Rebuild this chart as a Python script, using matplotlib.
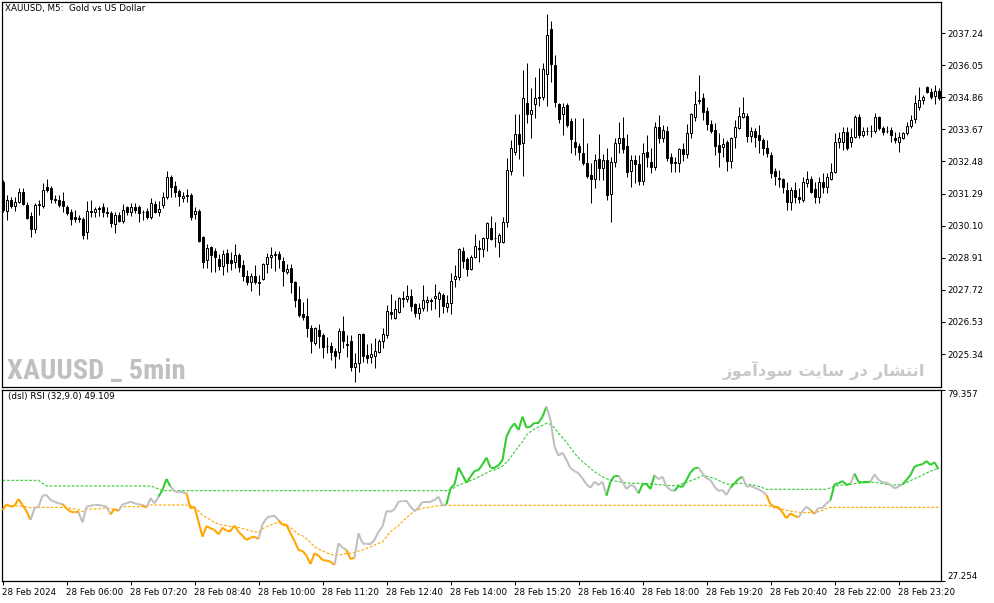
import matplotlib.pyplot as plt
import numpy as np
from matplotlib.collections import LineCollection
from matplotlib.patches import Rectangle

# XAUUSD M5 candles, 28 Feb 2024 04:40 onwards
opens = [2031.72, 2030.64, 2031.05, 2030.83, 2030.98, 2031.35, 2030.86, 2030.45, 2029.97, 2030.86,
         2030.83, 2031.53, 2031.49, 2031.09, 2031.05, 2031.01, 2030.79, 2030.61, 2030.42, 2030.38,
         2030.34, 2029.86, 2030.64, 2030.61, 2030.75, 2030.79, 2030.61, 2030.57, 2030.16, 2030.49,
         2030.27, 2030.79, 2030.61, 2030.79, 2030.79, 2030.61, 2030.64, 2030.42, 2030.90, 2030.61,
         2030.86, 2031.16, 2031.90, 2031.57, 2031.38, 2031.12, 2031.20, 2031.23, 2030.53, 2030.64,
         2029.67, 2028.82, 2029.30, 2029.15, 2028.86, 2028.60, 2029.08, 2028.82, 2028.75, 2029.00,
         2028.64, 2028.23, 2028.01, 2028.23, 2028.01, 2028.12, 2028.67, 2028.93, 2029.00, 2029.04,
         2028.78, 2028.38, 2028.53, 2028.01, 2027.38, 2026.82, 2026.75, 2026.30, 2025.75, 2026.23,
         2026.04, 2025.64, 2025.64, 2025.45, 2025.42, 2026.19, 2025.71, 2025.82, 2024.85, 2025.00,
         2026.08, 2025.30, 2025.23, 2025.27, 2025.42, 2025.82, 2026.04, 2026.90, 2026.67, 2026.90,
         2027.41, 2027.38, 2027.49, 2027.19, 2026.86, 2027.04, 2027.27, 2027.34, 2027.41, 2027.38,
         2027.53, 2027.08, 2027.23, 2028.12, 2028.19, 2029.15, 2028.86, 2028.49, 2028.93, 2029.26,
         2029.23, 2029.63, 2030.01, 2029.63, 2029.49, 2029.49, 2030.24, 2032.12, 2032.83, 2033.49,
         2033.16, 2034.64, 2034.23, 2034.60, 2034.83, 2034.86, 2035.72, 2037.39, 2036.05, 2034.60,
         2034.23, 2034.56, 2033.97, 2033.20, 2033.05, 2032.79, 2032.42, 2031.98, 2031.83, 2032.56,
         2032.23, 2032.53, 2031.27, 2032.45, 2033.16, 2033.34, 2033.05, 2032.12, 2032.53, 2032.38,
         2031.75, 2032.83, 2032.45, 2032.27, 2033.75, 2033.34, 2033.60, 2032.64, 2032.42, 2032.42,
         2032.94, 2032.75, 2033.53, 2034.12, 2034.71, 2034.83, 2034.34, 2033.86, 2033.64, 2033.08,
         2033.01, 2033.20, 2032.49, 2033.38, 2033.71, 2034.12, 2034.16, 2033.42, 2033.60, 2033.45,
         2033.27, 2032.97, 2032.71, 2032.12, 2031.87, 2031.83, 2031.42, 2030.98, 2031.42, 2031.16,
         2031.05, 2031.68, 2031.83, 2031.46, 2031.16, 2031.72, 2031.53, 2031.83, 2032.09, 2033.20,
         2033.20, 2033.57, 2033.20, 2033.38, 2034.12, 2033.45, 2033.60, 2033.60, 2033.60, 2034.12,
         2033.71, 2033.60, 2033.64, 2033.34, 2033.20, 2033.34, 2033.53, 2033.79, 2034.05, 2034.49,
         2034.75, 2035.23, 2035.05, 2034.90, 2035.09]
highs = [2031.79, 2031.23, 2031.16, 2031.16, 2031.49, 2031.49, 2030.98, 2030.61, 2030.94, 2031.05,
         2031.68, 2031.83, 2031.57, 2031.23, 2031.23, 2031.35, 2030.86, 2030.72, 2030.68, 2030.49,
         2030.42, 2031.01, 2031.05, 2030.79, 2030.83, 2030.94, 2030.79, 2030.64, 2030.61, 2030.61,
         2030.90, 2030.83, 2030.94, 2030.94, 2030.86, 2030.68, 2030.75, 2031.12, 2031.01, 2031.01,
         2031.35, 2032.12, 2031.98, 2031.75, 2031.46, 2031.35, 2031.46, 2031.31, 2030.79, 2030.72,
         2029.71, 2029.41, 2029.34, 2029.26, 2029.04, 2029.19, 2029.23, 2029.12, 2029.41, 2029.08,
         2028.82, 2028.45, 2028.34, 2028.64, 2028.27, 2028.71, 2029.08, 2029.30, 2029.15, 2029.15,
         2028.93, 2028.67, 2028.67, 2028.04, 2027.86, 2027.27, 2027.41, 2026.41, 2026.34, 2026.45,
         2026.12, 2025.97, 2025.79, 2025.56, 2026.30, 2026.75, 2026.04, 2026.04, 2025.38, 2026.08,
         2026.12, 2025.71, 2025.75, 2025.93, 2025.90, 2026.30, 2027.15, 2027.56, 2027.34, 2027.45,
         2027.67, 2027.90, 2027.75, 2027.23, 2027.23, 2027.90, 2027.49, 2027.41, 2027.93, 2027.67,
         2027.60, 2027.53, 2028.34, 2028.64, 2029.26, 2029.30, 2028.93, 2029.00, 2029.78, 2029.56,
         2029.67, 2030.24, 2030.46, 2030.24, 2029.82, 2030.42, 2032.60, 2033.27, 2034.23, 2034.23,
         2035.87, 2036.13, 2035.19, 2035.60, 2035.94, 2036.13, 2037.94, 2037.68, 2036.42, 2034.64,
         2034.64, 2034.64, 2034.08, 2034.08, 2033.16, 2034.08, 2033.16, 2032.42, 2032.75, 2033.49,
         2032.75, 2032.97, 2032.64, 2033.34, 2033.94, 2034.12, 2033.49, 2032.71, 2032.71, 2032.71,
         2033.16, 2033.45, 2032.97, 2033.94, 2034.19, 2033.82, 2033.79, 2032.79, 2032.64, 2032.97,
         2033.16, 2033.86, 2034.27, 2035.09, 2035.68, 2035.01, 2034.49, 2034.01, 2033.90, 2033.53,
         2033.34, 2033.27, 2033.38, 2034.01, 2034.49, 2034.86, 2034.27, 2033.75, 2033.71, 2033.82,
         2033.34, 2033.27, 2032.83, 2032.23, 2032.16, 2031.87, 2031.72, 2031.53, 2031.72, 2031.49,
         2031.90, 2032.12, 2031.94, 2031.72, 2031.90, 2032.05, 2032.05, 2032.42, 2033.53, 2033.57,
         2033.75, 2033.75, 2033.71, 2034.19, 2034.23, 2033.75, 2033.75, 2033.82, 2034.27, 2034.16,
         2033.79, 2033.79, 2033.75, 2033.57, 2033.57, 2033.57, 2033.94, 2034.19, 2034.94, 2035.23,
         2034.94, 2035.27, 2035.19, 2035.31, 2035.19]
lows = [2030.61, 2030.31, 2030.75, 2030.64, 2030.94, 2030.86, 2030.34, 2029.67, 2029.82, 2030.49,
        2030.75, 2031.35, 2030.94, 2030.94, 2030.79, 2030.61, 2030.49, 2030.12, 2030.24, 2030.24,
        2029.60, 2029.60, 2030.42, 2030.42, 2030.45, 2030.42, 2030.42, 2030.05, 2029.82, 2030.24,
        2030.20, 2030.49, 2030.45, 2030.57, 2030.24, 2030.31, 2030.34, 2030.34, 2030.57, 2030.45,
        2030.75, 2031.09, 2031.16, 2031.16, 2030.83, 2030.98, 2030.98, 2030.31, 2030.34, 2029.49,
        2028.53, 2028.53, 2028.38, 2028.38, 2028.45, 2028.27, 2028.38, 2028.45, 2028.53, 2028.38,
        2028.04, 2027.90, 2027.67, 2027.93, 2027.52, 2028.08, 2028.34, 2028.53, 2028.41, 2028.53,
        2027.86, 2028.30, 2027.60, 2027.08, 2026.71, 2026.60, 2025.97, 2025.38, 2025.67, 2025.56,
        2025.19, 2025.38, 2025.11, 2024.82, 2025.15, 2025.56, 2025.23, 2024.70, 2024.30, 2024.67,
        2025.04, 2025.00, 2025.00, 2024.82, 2025.38, 2025.56, 2025.93, 2026.64, 2026.64, 2026.86,
        2027.08, 2027.27, 2026.93, 2026.71, 2026.64, 2026.93, 2026.93, 2026.97, 2027.01, 2026.71,
        2026.86, 2026.90, 2026.82, 2027.82, 2028.08, 2028.53, 2028.23, 2028.45, 2028.90, 2028.75,
        2028.93, 2029.15, 2029.56, 2029.30, 2028.93, 2029.45, 2030.05, 2031.98, 2032.71, 2032.56,
        2031.94, 2033.90, 2033.34, 2034.08, 2034.53, 2034.75, 2034.53, 2035.42, 2034.49, 2033.90,
        2033.45, 2033.75, 2032.79, 2032.71, 2032.53, 2032.34, 2031.87, 2030.94, 2031.49, 2031.79,
        2031.79, 2031.05, 2030.24, 2032.27, 2032.79, 2032.79, 2031.90, 2031.53, 2031.68, 2031.60,
        2031.60, 2032.27, 2032.05, 2032.16, 2033.16, 2033.20, 2032.49, 2032.09, 2032.09, 2032.09,
        2032.49, 2032.60, 2033.34, 2033.97, 2034.60, 2034.01, 2033.64, 2033.53, 2032.71, 2032.27,
        2032.64, 2032.12, 2032.23, 2032.97, 2033.67, 2034.08, 2033.20, 2033.20, 2033.01, 2032.79,
        2032.71, 2032.64, 2031.87, 2031.60, 2031.53, 2031.31, 2030.68, 2030.68, 2030.94, 2030.94,
        2030.98, 2031.53, 2031.31, 2030.94, 2030.94, 2031.31, 2031.31, 2031.79, 2032.05, 2032.97,
        2032.90, 2032.90, 2033.01, 2033.34, 2033.34, 2033.38, 2033.45, 2033.38, 2033.53, 2033.64,
        2033.45, 2033.53, 2033.20, 2033.16, 2032.83, 2033.30, 2033.45, 2033.71, 2033.90, 2034.38,
        2034.60, 2035.01, 2034.79, 2034.60, 2034.75]
closes = [2030.68, 2031.05, 2030.83, 2030.98, 2031.35, 2030.90, 2030.38, 2029.97, 2030.86, 2030.90,
          2031.42, 2031.42, 2031.09, 2031.05, 2030.86, 2030.83, 2030.57, 2030.34, 2030.34, 2030.34,
          2029.74, 2030.64, 2030.61, 2030.72, 2030.72, 2030.61, 2030.57, 2030.20, 2030.49, 2030.27,
          2030.68, 2030.61, 2030.79, 2030.68, 2030.57, 2030.61, 2030.42, 2030.94, 2030.61, 2030.72,
          2031.16, 2031.90, 2031.53, 2031.35, 2031.20, 2031.20, 2031.23, 2030.42, 2030.64, 2029.53,
          2028.75, 2029.26, 2029.00, 2028.93, 2028.60, 2029.04, 2028.71, 2028.71, 2029.00, 2028.56,
          2028.23, 2028.01, 2028.23, 2028.01, 2027.97, 2028.67, 2028.93, 2029.00, 2029.04, 2028.86,
          2028.41, 2028.49, 2028.01, 2027.34, 2026.78, 2026.71, 2026.30, 2025.82, 2026.30, 2026.01,
          2025.60, 2025.64, 2025.42, 2025.27, 2026.19, 2025.82, 2025.67, 2024.85, 2025.00, 2026.08,
          2025.27, 2025.19, 2025.34, 2025.45, 2025.82, 2026.08, 2026.93, 2026.82, 2027.01, 2027.41,
          2027.38, 2027.49, 2027.12, 2026.86, 2027.04, 2027.34, 2027.34, 2027.30, 2027.49, 2027.60,
          2027.12, 2027.23, 2028.04, 2028.23, 2029.23, 2028.78, 2028.49, 2028.93, 2029.34, 2029.23,
          2029.63, 2030.20, 2029.60, 2029.63, 2029.74, 2030.24, 2032.16, 2032.97, 2033.49, 2033.12,
          2034.83, 2034.23, 2034.38, 2034.83, 2034.86, 2035.90, 2037.16, 2036.09, 2034.68, 2034.05,
          2034.49, 2033.82, 2033.30, 2033.01, 2032.83, 2032.42, 2031.94, 2031.83, 2032.53, 2032.23,
          2032.53, 2031.23, 2032.45, 2033.16, 2033.34, 2032.94, 2032.09, 2032.53, 2032.38, 2031.75,
          2032.79, 2032.64, 2032.27, 2033.75, 2033.34, 2033.64, 2032.60, 2032.42, 2032.45, 2032.94,
          2032.75, 2033.53, 2034.23, 2034.60, 2034.75, 2034.31, 2033.86, 2033.60, 2033.05, 2032.83,
          2033.12, 2032.49, 2033.34, 2033.75, 2034.16, 2034.27, 2033.42, 2033.60, 2033.38, 2033.27,
          2032.97, 2032.79, 2032.05, 2031.94, 2031.83, 2031.53, 2030.98, 2031.42, 2031.16, 2031.09,
          2031.72, 2031.83, 2031.35, 2031.16, 2031.72, 2031.53, 2031.90, 2032.09, 2033.20, 2033.34,
          2033.57, 2032.97, 2033.38, 2034.12, 2033.45, 2033.60, 2033.60, 2033.60, 2034.12, 2033.71,
          2033.57, 2033.60, 2033.45, 2033.27, 2033.38, 2033.53, 2033.79, 2034.01, 2034.64, 2034.75,
          2034.86, 2035.05, 2034.86, 2035.09, 2034.83]

# (dsl) RSI(32, 9) with its two signal levels
rsi = [46.62, 48.17, 47.53, 47.80, 49.62, 47.98, 46.35, 43.89, 47.08, 47.53,
       50.53, 50.71, 49.35, 48.90, 48.44, 48.26, 47.08, 46.17, 45.98, 45.98,
       43.26, 47.53, 47.80, 47.98, 47.98, 47.80, 47.53, 45.44, 46.89, 46.35,
       48.17, 48.44, 48.90, 48.44, 48.17, 47.98, 47.26, 49.81, 48.44, 50.26,
       52.08, 55.08, 52.99, 51.80, 51.44, 51.44, 51.17, 47.08, 47.53, 43.44,
       39.35, 42.26, 41.62, 41.17, 39.98, 41.80, 40.98, 40.98, 42.35, 40.71,
       39.62, 38.44, 39.08, 39.35, 38.71, 42.71, 44.35, 44.99, 44.99, 43.89,
       42.53, 42.53, 40.26, 38.17, 35.71, 35.44, 34.17, 31.89, 34.80, 34.17,
       32.98, 32.80, 32.53, 31.62, 37.53, 36.35, 35.71, 33.26, 33.62, 40.26,
       37.53, 37.35, 37.35, 38.44, 40.71, 42.07, 46.35, 46.17, 46.80, 48.90,
       49.08, 49.08, 47.53, 46.35, 47.26, 48.90, 48.90, 48.90, 49.35, 50.26,
       47.80, 48.17, 52.53, 53.62, 58.17, 56.17, 54.08, 55.71, 57.26, 57.53,
       59.08, 60.90, 58.17, 58.17, 58.80, 60.26, 66.63, 68.90, 70.26, 68.45,
       72.08, 69.08, 69.35, 70.45, 70.45, 72.08, 74.81, 71.17, 63.90, 61.44,
       62.26, 60.26, 57.99, 57.26, 56.62, 55.26, 53.62, 52.71, 54.35, 53.44,
       54.35, 50.53, 54.35, 55.99, 55.99, 54.35, 52.35, 53.44, 52.99, 51.17,
       53.62, 53.71, 52.35, 56.17, 54.99, 55.71, 52.99, 52.08, 51.81, 53.17,
       52.90, 54.81, 56.90, 57.99, 58.17, 56.62, 55.26, 54.81, 52.99, 51.81,
       52.08, 50.71, 52.71, 53.90, 55.08, 55.71, 52.99, 53.17, 52.71, 52.26,
       51.62, 50.71, 48.17, 47.53, 47.35, 45.98, 44.35, 45.71, 44.99, 44.62,
       46.35, 47.53, 46.62, 45.53, 47.26, 47.26, 48.44, 49.35, 53.62, 53.90,
       54.53, 53.44, 53.81, 56.53, 54.35, 54.17, 54.17, 54.35, 56.35, 54.81,
       54.17, 54.08, 53.44, 52.53, 52.99, 53.62, 54.81, 56.17, 58.44, 58.90,
       59.08, 59.99, 58.90, 59.63, 57.81]
dsl_up = ([54.71] * 10 + [53.90] + [53.17] * 27 + [52.81, 52.35] + [51.90] * 72 +
          [52.17, 52.71, 53.44, 53.81, 54.17, 54.62, 55.08, 55.62, 56.17, 56.72,
           57.26, 57.53, 57.99, 58.62, 59.62, 60.90, 62.53, 63.90, 65.26, 67.08,
           67.99, 68.72, 69.26, 69.72, 70.26, 69.99, 69.08, 67.54, 66.35, 65.08,
           63.63, 62.08, 60.90, 59.81, 58.90, 57.99, 57.08, 56.35, 55.71, 55.17,
           54.81, 54.53, 54.35, 54.17, 53.99, 53.90, 53.90, 53.90, 53.90, 53.81,
           53.71, 53.62, 53.53, 53.44, 53.35, 53.26, 53.26, 53.44, 53.81, 54.17,
           54.62, 54.99, 55.53, 55.99, 55.81, 55.53, 55.26, 54.71, 54.17, 53.71,
           53.62, 53.71, 53.90, 53.90, 53.71, 53.53, 53.35, 53.08, 52.71] +
          [52.26] * 16 +
          [52.71, 53.17, 53.26, 53.44, 53.53, 53.62, 53.81, 53.90, 53.99, 54.08,
           54.17, 54.17, 53.99, 53.81, 53.62, 53.44, 53.44, 53.53, 53.62, 54.08,
           54.62, 55.17, 55.62, 56.17, 56.72, 57.17, 57.62, 57.99])
dsl_dn = ([47.26, 47.80, 47.80, 47.71, 47.80, 47.62, 47.44, 47.26] + [47.35] * 8 +
          [47.26, 47.08, 46.89, 46.71, 46.17] + [46.89] * 4 + [47.08, 47.26, 46.89, 46.89, 46.71] +
          [47.53] * 6 + [47.71] + [47.99] * 10 +
          [47.80, 47.08, 46.35, 45.26, 44.53, 43.89, 43.26, 42.80, 42.53, 42.35,
           42.17, 42.07, 41.89, 41.62, 41.26, 40.98, 40.71, 40.53, 41.44, 42.07,
           42.53, 42.98, 43.17, 42.98, 42.53, 41.80, 40.89, 39.98, 39.62, 38.71,
           37.80, 36.62, 35.98, 35.44, 34.98, 34.53, 34.35, 34.35, 34.53, 34.71,
           34.80, 35.07, 35.44, 35.71, 36.16, 36.53, 37.07, 37.53, 37.98, 39.35,
           40.71, 41.62, 42.35, 43.44, 44.53, 45.44, 46.35, 46.71, 47.08, 47.26,
           47.44, 47.62, 47.80] +
          [47.90] * 82 +
          [47.62, 47.26, 46.99, 46.80, 46.53, 46.35, 46.17, 45.98, 45.89, 45.89,
           45.89, 45.89, 46.17, 46.53, 47.08] +
          [47.35] * 28)
# colour state of each RSI bar: g = above upper level, o = below lower level, n = between
rsi_state = ("n" + "o" * 7 + "n" * 8 + "o" * 4 + "n" * 8 + "o" * 2 + "n" * 6 + "o" +
             "n" * 3 + "g" * 3 + "n" * 4 + "o" * 18 + "n" * 5 + "o" * 14 + "n" * 3 +
             "o" * 2 + "n" * 23 + "g" * 25 + "n" * 15 + "g" * 3 + "n" * 5 + "g" * 4 +
             "n" * 5 + "g" * 6 + "n" * 8 + "g" * 3 + "n" * 6 + "o" * 8 + "n" * 3 + "o" +
             "n" * 4 + "g" * 5 + "n" + "g" * 4 + "n" * 8 + "g" * 9)

price_ticks = [2037.24, 2036.05, 2034.86, 2033.67, 2032.48, 2031.29, 2030.10,
               2028.91, 2027.72, 2026.53, 2025.34]
rsi_ticks = [79.357, 27.254]
time_labels = ["28 Feb 2024", "28 Feb 06:00", "28 Feb 07:20", "28 Feb 08:40", "28 Feb 10:00",
               "28 Feb 11:20", "28 Feb 12:40", "28 Feb 14:00", "28 Feb 15:20", "28 Feb 16:40",
               "28 Feb 18:00", "28 Feb 19:20", "28 Feb 20:40", "28 Feb 22:00", "28 Feb 23:20"]
bars_per_label = 16

W, H = 994, 603
fig = plt.figure(figsize=(W / 100, H / 100), dpi=100)


def px_axes(left, top, right, bottom):
    return fig.add_axes([left / W, 1 - bottom / H, (right - left) / W, (bottom - top) / H])


ax = px_axes(2, 2, 941, 387)
ax2 = px_axes(2, 390, 941, 581)
n = len(closes)
xs = np.arange(n)
# 4 px per bar, bar centres on pixel centres
x0 = -0.125
x1 = x0 + 939 / 4
px = 0.72  # one pixel in points

# candles
ax.vlines(xs, lows, highs, color="black", lw=px, zorder=1)
for i in range(n):
    o, c = opens[i], closes[i]
    up = c >= o
    ax.add_patch(Rectangle((i - 0.25, min(o, c)), 0.5, abs(c - o),
                           facecolor="white" if up else "black", edgecolor="black",
                           lw=px, zorder=2))
ax.set_xlim(x0, x1)
ax.set_ylim(2024.12, 2038.39)
ax.set_xticks([])
ax.yaxis.tick_right()
ax.set_yticks(price_ticks)
ax.set_yticklabels(["%.2f" % p for p in price_ticks])
ax.tick_params(axis="y", direction="out", length=3, width=0.75, pad=1.5, labelsize=6.3)

# RSI panel
colors = {"g": "#32CD32", "o": "#FFA500", "n": "#C0C0C0"}
segs = [[(i - 1, rsi[i - 1]), (i, rsi[i])] for i in range(1, n)]
seg_colors = [colors[s] for s in rsi_state[1:]]
ax2.add_collection(LineCollection(segs, colors=seg_colors, linewidths=1.5, zorder=3))
ax2.plot(xs, dsl_up, color="#32CD32", lw=0.8, ls=(0, (2.5, 1.5)), zorder=2)
ax2.plot(xs, dsl_dn, color="#FFA500", lw=0.8, ls=(0, (2.5, 1.5)), zorder=2)
ax2.set_xlim(x0, x1)
ax2.set_ylim(rsi_ticks[1], rsi_ticks[0])
ax2.yaxis.tick_right()
ax2.set_yticks(rsi_ticks)
ax2.set_yticklabels(["%.3f" % v for v in rsi_ticks])
ax2.tick_params(axis="y", direction="out", length=3, width=0.75, pad=1.5, labelsize=6.3)
ylabs = ax2.get_yticklabels()
ylabs[0].set_va("top")
ylabs[1].set_va("bottom")
ax2.set_xticks(np.arange(len(time_labels)) * bars_per_label)
ax2.set_xticklabels(time_labels)
ax2.tick_params(axis="x", direction="out", length=3, width=0.75, pad=2, labelsize=6.3)
for lab in ax2.get_xticklabels():
    lab.set_ha("left")

for a in (ax, ax2):
    for sp in a.spines.values():
        sp.set_linewidth(0.9)

# texts
fig.text(5 / W, 1 - 4 / H, "XAUUSD, M5:  Gold vs US Dollar", va="top", fontsize=6.3)
fig.text(8 / W, 1 - 392 / H, "(dsl) RSI (32,9.0) 49.109", va="top", fontsize=6.3)
fig.text(7 / W, 1 - 379 / H, "XAUUSD _ 5min", va="baseline", fontsize=20.5, weight="bold",
         color="#C0C0C0", family=["Roboto Condensed", "Liberation Sans"])
persian = ("\uFEAF\uFEEE\uFEE3\uFE81\uFEA9\uFEEE\uFEB3 \uFE96\uFBFE\uFE8E\uFEB3 "
           "\uFEAD\uFEA9 \uFEAD\uFE8E\uFEB8\uFE98\uFEE7\uFE8D")
fig.text(925 / W, 1 - 376 / H, persian, ha="right", va="baseline", fontsize=11.8, weight="bold",
         color="#C8C8C8", family="DejaVu Sans")

fig.savefig("out.png", dpi=100)
